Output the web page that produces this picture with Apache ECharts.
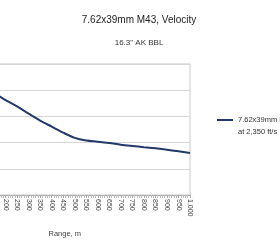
<!DOCTYPE html>
<html>
<head>
<meta charset="utf-8">
<script src="https://cdn.jsdelivr.net/npm/echarts@6/dist/echarts.min.js"></script>
<style>
html,body{margin:0;padding:0;background:#fff;overflow:hidden;width:280px;height:250px;}
/* the reference is cropped on the left, so the chart is wider than the page */
#container{width:324px;height:250px;margin-left:-44px;}
</style>
</head>
<body>
<div id="container"></div>
<script>
// range in metres, velocity in ft/s
var ranges = [0, 50, 100, 150, 200, 250, 300, 350, 400, 450, 500, 550, 600, 650, 700, 750, 800, 850, 900, 950, 1000];
var velocity = [2350, 2215, 2085, 1945, 1810, 1690, 1553, 1420, 1305, 1190, 1090, 1040, 1018, 992, 960, 935, 912, 890, 865, 835, 802];
var seriesName = '7.62x39mm M43\nat 2,350 ft/s';

var chart = echarts.init(document.getElementById('container'));

var points = ranges.map(function (r, i) { return [r, velocity[i]]; });

var option = {
    animation: false,
    textStyle: { fontFamily: 'Liberation Sans, Arial, sans-serif' },
    title: {
        text: '7.62x39mm M43, Velocity',
        subtext: '16.3" AK BBL',
        left: 178,
        textAlign: 'center',
        top: 10,
        itemGap: 14,
        textStyle: { fontSize: 10, fontWeight: 'normal', color: '#222' },
        subtextStyle: { fontSize: 8, color: '#333' }
    },
    legend: {
        data: [seriesName],
        left: 261,
        top: 102,
        padding: 0,
        itemWidth: 16,
        itemHeight: 12,
        icon: 'path://M0,5h16v2h-16z',
        formatter: function (name) { return ' \n' + name; },
        textStyle: { fontSize: 7.5, color: '#333', lineHeight: 12 }
    },
    grid: {
        left: 0,
        right: 90,
        top: 64,
        bottom: 55,
        show: true,
        borderColor: '#c8c8c8',
        borderWidth: 1
    },
    xAxis: {
        type: 'value',
        min: 0,
        max: 1000,
        interval: 50,
        name: 'Range, m',
        nameLocation: 'middle',
        nameGap: 35,
        nameTextStyle: { fontSize: 7.5, color: '#444', padding: [0, 20, 0, 0] },
        axisLine: { lineStyle: { color: '#aaa' } },
        axisTick: { length: 3, lineStyle: { color: '#aaa' } },
        minorTick: { show: true, splitNumber: 5, length: 3, lineStyle: { color: '#bbb' } },
        axisLabel: { rotate: -90, fontSize: 7, color: '#444', margin: 4 },
        splitLine: { show: false }
    },
    yAxis: {
        type: 'value',
        min: 0,
        max: 2500,
        interval: 500,
        axisLabel: { show: false },
        axisLine: { show: false },
        axisTick: { show: false },
        splitLine: { lineStyle: { color: '#d6d6d6' } }
    },
    series: [{
        name: seriesName,
        type: 'line',
        data: points,
        smooth: 0.3,
        showSymbol: false,
        lineStyle: { color: '#22396a', width: 2 },
        itemStyle: { color: '#22396a' }
    }]
};

chart.setOption(option);
</script>
</body>
</html>
